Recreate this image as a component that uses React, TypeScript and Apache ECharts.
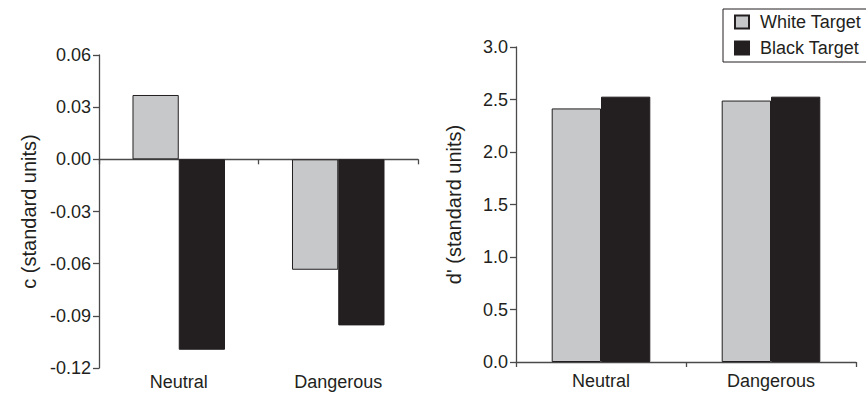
import React, { useEffect, useRef } from "react";
import * as echarts from "echarts";

const categories = ["Neutral", "Dangerous"];
const seriesNames = ["White Target", "Black Target"];
const cWhite = [0.037, -0.0635];
const cBlack = [-0.1095, -0.0955];
const dWhite = [2.415, 2.49];
const dBlack = [2.527, 2.527];
const cMin = -0.12;
const cMax = 0.06;
const cStep = 0.03;
const dMin = 0;
const dMax = 3;
const dStep = 0.5;
const cTitle = "c (standard units)";
const dTitle = "d' (standard units)";

const FONT = "'Liberation Sans', Arial, Helvetica, sans-serif";
const INK = "#231f20";
const AXIS = "#4a4a4a";
const GRAY = "#c7c8ca";

export default function App() {
  const ref = useRef<HTMLDivElement>(null);
  useEffect(() => {
    document.body.style.margin = "0";
    const chart = echarts.init(ref.current!, null, { renderer: "svg" });
    const barStyle = (color: string) => ({ color, borderColor: INK, borderWidth: 1 });
    const yAxisBase = (gridIndex: number, min: number, max: number, interval: number, digits: number, name: string, nameGap: number) => ({
      type: "value",
      gridIndex,
      min,
      max,
      interval,
      name,
      nameLocation: "middle",
      nameGap,
      nameTextStyle: { fontSize: 20, color: INK, fontFamily: FONT },
      splitLine: { show: false },
      axisLine: { show: true, lineStyle: { color: AXIS, width: 1.3 } },
      axisTick: { show: true, length: 6, lineStyle: { color: AXIS, width: 1.3 } },
      axisLabel: {
        fontSize: 18,
        color: INK,
        fontFamily: FONT,
        margin: 8,
        formatter: (v: number) => v.toFixed(digits),
      },
    });
    chart.setOption({
      animation: false,
      backgroundColor: "#ffffff",
      legend: {
        data: seriesNames,
        orient: "vertical",
        left: 723,
        top: 9,
        padding: [3, 11, 4, 11],
        itemWidth: 14,
        itemHeight: 13,
        itemGap: 6,
        icon: "rect",
        borderColor: INK,
        borderWidth: 1,
        textStyle: { fontSize: 18, lineHeight: 20, color: INK, fontFamily: FONT, padding: [0, 0, 0, 6] },
      },
      grid: [
        { left: 99, top: 55, width: 319, height: 313 },
        { left: 516, top: 47, width: 340, height: 315 },
      ],
      xAxis: [
        {
          type: "category",
          gridIndex: 0,
          data: categories,
          position: "bottom",
          axisLine: { show: false, onZero: false },
          axisTick: { show: false },
          axisLabel: { fontSize: 18, color: INK, fontFamily: FONT, margin: 5 },
        },
        {
          type: "category",
          gridIndex: 0,
          data: categories,
          position: "bottom",
          axisLine: { show: true, onZero: true, lineStyle: { color: AXIS, width: 1.3 } },
          axisTick: { show: true, length: 5, lineStyle: { color: AXIS, width: 1.3 } },
          axisLabel: { show: false },
        },
        {
          type: "category",
          gridIndex: 1,
          data: categories,
          position: "bottom",
          axisLine: { show: true, lineStyle: { color: AXIS, width: 1.3 } },
          axisTick: { show: true, length: 5, lineStyle: { color: AXIS, width: 1.3 } },
          axisLabel: { fontSize: 18, color: INK, fontFamily: FONT, margin: 10 },
        },
      ],
      yAxis: [
        yAxisBase(0, cMin, cMax, cStep, 2, cTitle, 60),
        yAxisBase(1, dMin, dMax, dStep, 1, dTitle, 52),
      ],
      series: [
        {
          name: seriesNames[0],
          type: "bar",
          xAxisIndex: 0,
          yAxisIndex: 0,
          data: cWhite,
          barGap: "0%",
          barCategoryGap: "42%",
          itemStyle: barStyle(GRAY),
        },
        {
          name: seriesNames[1],
          type: "bar",
          xAxisIndex: 0,
          yAxisIndex: 0,
          data: cBlack,
          barGap: "0%",
          barCategoryGap: "42%",
          itemStyle: barStyle(INK),
        },
        {
          name: seriesNames[0],
          type: "bar",
          xAxisIndex: 2,
          yAxisIndex: 1,
          data: dWhite,
          barGap: "0%",
          barCategoryGap: "42%",
          itemStyle: barStyle(GRAY),
        },
        {
          name: seriesNames[1],
          type: "bar",
          xAxisIndex: 2,
          yAxisIndex: 1,
          data: dBlack,
          barGap: "0%",
          barCategoryGap: "42%",
          itemStyle: barStyle(INK),
        },
      ],
    });
    return () => chart.dispose();
  }, []);
  return <div ref={ref} style={{ width: 866, height: 393 }} />;
}
